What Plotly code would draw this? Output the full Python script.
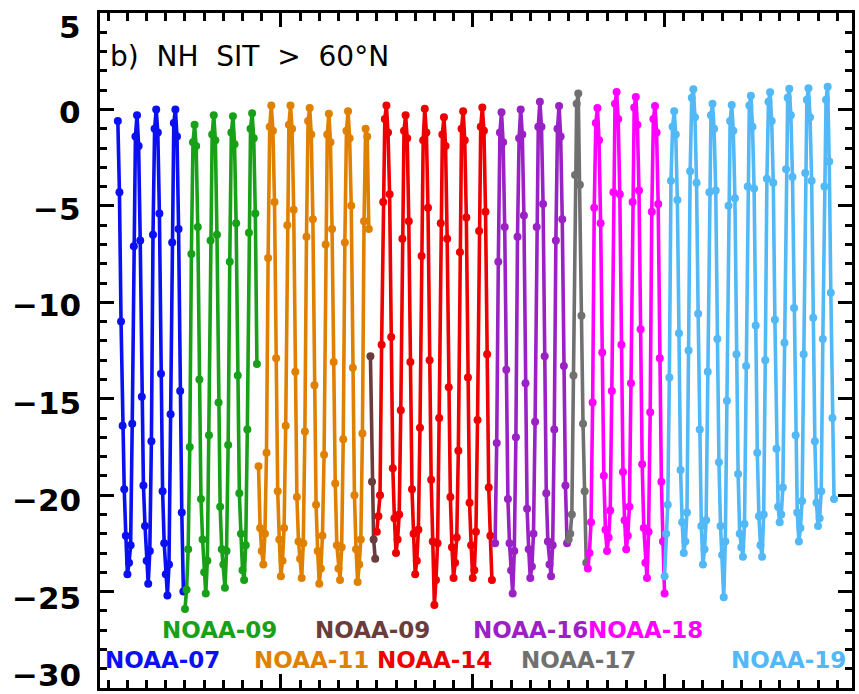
import plotly.graph_objects as go

# ---------------- data (monthly NH sea-ice surface temperature, degC) ----------------
# each satellite: start year, start month, monthly values
noaa07_start = (1981, 7)
noaa07 = [-0.6, -4.3, -11.0, -16.4, -19.7, -22.1,
          -24.1, -23.5, -22.6, -16.3, -7.1, -1.4, -0.3, -1.9, -6.8, -14.9, -19.5, -21.6,
          -23.4, -24.6, -22.9, -17.2, -6.5, -1.0, 0.0, -1.2, -5.4, -13.7, -19.8, -22.5,
          -24.1, -25.2, -23.6, -15.8, -6.9, -0.7, 0.0, -1.4, -6.2, -14.6, -20.9, -25.0]

noaa09a_start = (1985, 1)
noaa09a = [-25.9, -24.9, -22.8, -17.5, -7.5, -1.7, -0.8, -1.9, -6.1, -14.0, -20.2, -22.3,
           -24.0, -25.1, -23.4, -16.9, -6.8, -1.3, -0.3, -1.6, -6.5, -15.2, -20.6, -22.8,
           -23.6, -24.8, -22.9, -17.4, -7.9, -1.2, -0.35, -1.8, -5.9, -13.8, -19.9, -22.0,
           -23.9, -24.4, -22.6, -16.6, -6.4, -1.0, -0.2, -1.5, -5.4, -13.2]

noaa11_start = (1988, 11)
noaa11 = [-18.5, -21.7,
          -22.9, -23.6, -22.0, -17.8, -7.7, -0.9, 0.2, -1.1, -4.8, -12.9, -19.8, -22.3,
          -24.2, -23.4, -21.7, -16.4, -6.0, -0.8, 0.2, -1.0, -5.2, -13.6, -20.1, -22.4,
          -23.3, -24.3, -22.5, -16.7, -6.6, -0.6, 0.07, -1.3, -5.7, -14.3, -20.5, -22.9,
          -24.6, -23.8, -22.1, -17.9, -7.0, -1.3, -0.23, -1.7, -6.2, -13.1, -19.4, -22.6,
          -23.8, -24.4, -22.7, -17.1, -6.9, -1.1, -0.1, -1.5, -5.0, -13.4, -20.0, -22.8,
          -24.5, -23.6, -22.3, -16.8, -5.8, -1.0, -1.4, -6.2]

noaa09b_start = (1994, 9)
noaa09b = [-12.8, -19.3, -22.3, -23.3]

noaa14_start = (1995, 1)
noaa14 = [-21.9, -21.1, -20.0, -12.2, -4.8, -0.5, 0.2, -1.2, -4.4, -11.8, -18.6, -21.2,
          -23.0, -22.3, -21.0, -15.6, -6.7, -1.1, -0.3, -1.5, -5.8, -13.1, -19.7, -22.0,
          -24.1, -23.4, -21.8, -16.5, -7.6, -1.6, 0.04, -1.2, -5.1, -13.0, -19.2, -22.4,
          -25.7, -24.4, -22.5, -16.0, -5.9, -1.3, -0.4, -1.9, -6.7, -14.4, -20.1, -22.7,
          -24.3, -23.5, -22.2, -17.7, -7.4, -1.0, -0.1, -1.6, -5.6, -13.9, -20.4, -22.6,
          -24.3, -23.9, -21.9, -16.1, -6.3, -0.9, 0.1, -1.1, -5.3, -12.7, -19.6, -22.1,
          -24.4]

noaa16_start = (2001, 3)
noaa16 = [-22.5, -17.3, -7.9, -1.2, -0.14, -1.7, -6.1, -13.5, -20.2, -22.5,
          -23.9, -25.1, -22.9, -17.0, -6.6, -1.5, 0.0, -1.3, -5.5, -14.2, -20.7, -22.8,
          -24.3, -23.7, -22.0, -16.2, -6.1, -0.9, 0.4, -0.9, -4.9, -12.8, -19.9, -22.4,
          -23.6, -24.2, -22.6, -16.6, -6.8, -1.0, 0.18, -1.4, -5.7, -13.3, -19.5, -22.5]

noaa17_start = (2005, 1)
noaa17 = [-22.3, -22.0, -21.0, -13.8, -3.4, 0.3, 0.83, -3.9, -10.7, -16.3, -19.8, -23.5]

noaa18_start = (2006, 1)
noaa18 = [-23.8, -23.0, -21.4, -15.2, -5.1, -0.7, 0.07, -1.6, -5.9, -12.6, -19.0, -21.8,
          -22.9, -22.2, -20.8, -14.6, -4.3, 0.3, 0.9, -0.5, -4.4, -12.2, -18.8, -21.3,
          -22.8, -22.1, -20.6, -14.2, -4.8, 0.1, 0.65, -0.8, -4.2, -11.4, -18.4, -21.7,
          -23.5, -24.3, -21.9, -15.7, -5.3, -0.5, 0.18, -1.2, -4.9, -12.9, -19.3, -22.4,
          -25.1]

noaa19_start = (2010, 1)
noaa19 = [-24.2, -22.0, -20.5, -13.9, -3.7, -0.9, -0.1, -1.3, -4.7, -11.6, -18.7, -21.4,
          -23.0, -22.4, -20.9, -12.5, -3.2, 0.6, 1.04, -0.4, -3.8, -10.6, -16.6, -21.6,
          -23.6, -22.8, -21.3, -13.6, -4.3, -0.3, 0.29, -1.0, -4.2, -11.9, -18.3, -21.6,
          -23.1, -25.3, -22.4, -15.1, -5.0, -0.6, 0.23, -1.1, -4.6, -12.7, -18.9, -22.0,
          -22.7, -23.2, -21.5, -13.3, -4.0, 0.2, 0.71, -0.9, -4.1, -11.2, -17.8, -21.1,
          -22.6, -23.2, -21.0, -13.0, -3.6, 0.4, 0.89, -0.6, -3.8, -10.9, -17.6, -20.6,
          -21.4, -21.0, -19.6, -12.1, -3.1, 0.6, 1.07, -0.3, -3.5, -10.3, -16.9, -20.9,
          -22.4, -21.7, -20.3, -12.7, -3.3, 0.5, 1.1, -0.4, -3.7, -10.8, -17.2, -20.4,
          -21.6, -21.2, -19.8, -11.9, -4.0, 0.5, 1.18, -2.7, -9.5, -16.0, -20.2]

satellites = ["NOAA-07", "NOAA-09", "NOAA-11", "NOAA-09", "NOAA-14",
              "NOAA-16", "NOAA-17", "NOAA-18", "NOAA-19"]
series = [noaa07, noaa09a, noaa11, noaa09b, noaa14, noaa16, noaa17, noaa18, noaa19]
starts = [noaa07_start, noaa09a_start, noaa11_start, noaa09b_start, noaa14_start,
          noaa16_start, noaa17_start, noaa18_start, noaa19_start]
colors = ["#0a10f0", "#18a018", "#e08000", "#6a3c3c", "#ee0000",
          "#9a22c4", "#707070", "#ff00ff", "#52b8f6"]

# label placement (data coordinates, year / degC)
label_x = [1983.84, 1986.78, 1991.58, 1994.75, 1998.02, 2003.01, 2005.50, 2008.99, 2016.47]
label_y = [-28.55, -27.0, -28.55, -27.0, -28.55, -27.0, -28.55, -27.0, -28.55]

# y tick labels (drawn as text next to the inside ticks, as in the original IDL plot)
y_tickvals = [5, 0, -5, -10, -15, -20, -25, -30]
y_ticklabels = ["5", "0", "\u22125", "\u221210", "\u221215", "\u221220", "\u221225", "\u221230"]
y_label_shift = [-14, -3, -3, -3, -4, -5, -6, 13]

title_text = "b)  NH  SIT  >  60°N"

# ---------------- figure ----------------
fig = go.Figure()
for vals, (y0, m0), col, name in zip(series, starts, colors, satellites):
    t = [y0 + (m0 - 1 + i) / 12.0 for i in range(len(vals))]
    fig.add_trace(go.Scatter(
        x=t, y=vals, mode="lines+markers", name=name,
        line=dict(color=col, width=3.6),
        marker=dict(color=col, size=8, symbol="circle"),
        showlegend=False, hoverinfo="x+y"))

for name, lx, ly, col in zip(satellites, label_x, label_y, colors):
    fig.add_annotation(x=lx, y=ly, xref="x", yref="y", text=name, showarrow=False,
                       xanchor="center", yanchor="middle",
                       font=dict(family="DejaVu Sans", size=23, color=col, weight="bold"))

for v, txt, sh in zip(y_tickvals, y_ticklabels, y_label_shift):
    fig.add_annotation(x=-0.0225, y=v, xref="paper", yref="y", text=txt, showarrow=False,
                       xanchor="right", yanchor="middle", yshift=sh,
                       font=dict(family="DejaVu Sans", size=31, color="black", weight="bold"))

fig.add_annotation(x=0.011, y=0.936, xref="paper", yref="paper", text=title_text,
                   showarrow=False, xanchor="left", yanchor="middle",
                   font=dict(family="DejaVu Sans", size=28, color="black"))

axis_common = dict(showline=True, linecolor="black", linewidth=3, mirror="allticks",
                   ticks="inside", tickcolor="black", tickwidth=3, showgrid=False,
                   zeroline=False, showticklabels=False)

fig.update_xaxes(range=[1980.57, 2019.77], tick0=1990, dtick=10, ticklen=14,
                 minor=dict(dtick=1, tick0=1990, ticks="inside", ticklen=8,
                            tickwidth=3, tickcolor="black", showgrid=False),
                 **axis_common)
fig.update_yaxes(range=[-30, 5], tick0=0, dtick=5, ticklen=14,
                 minor=dict(dtick=1, tick0=0, ticks="inside", ticklen=7,
                            tickwidth=3, tickcolor="black", showgrid=False),
                 **axis_common)

fig.update_layout(width=859, height=694, autosize=False,
                  margin=dict(l=100, r=4, t=13, b=6, pad=0),
                  paper_bgcolor="white", plot_bgcolor="white")

fig.write_html("out.html")
